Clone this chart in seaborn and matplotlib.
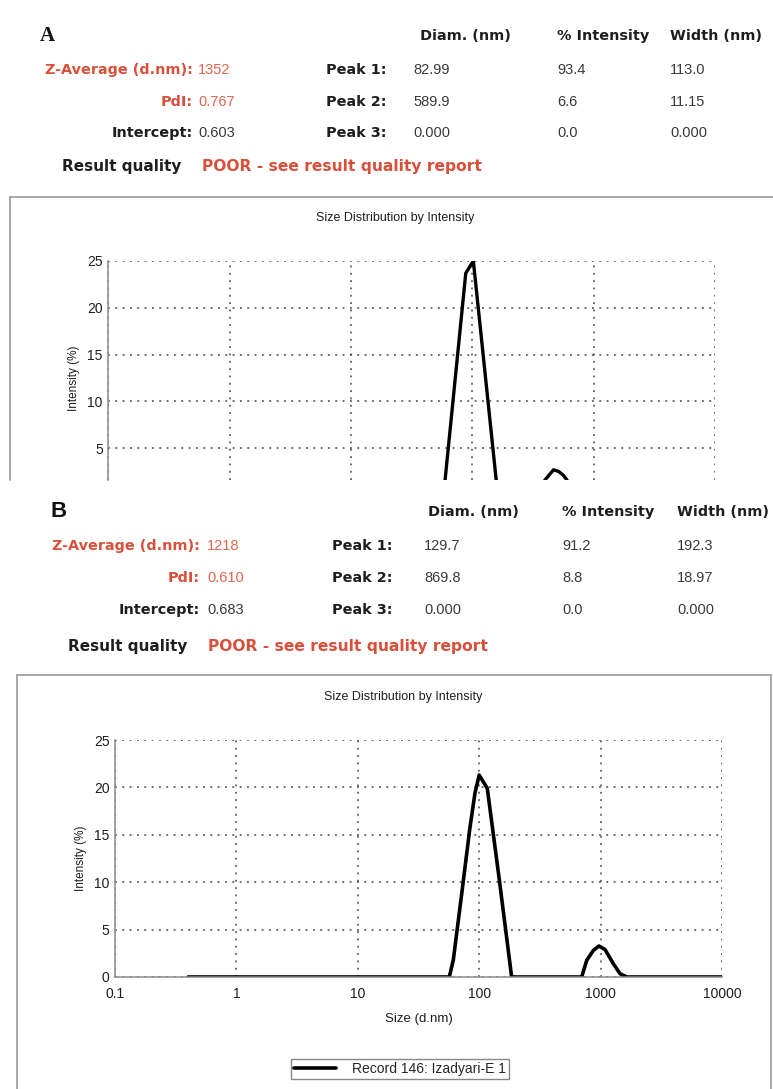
import numpy as np
import pandas as pd
import matplotlib
matplotlib.use("Agg")
import matplotlib.pyplot as plt
import seaborn as sns
from matplotlib.lines import Line2D
from matplotlib.ticker import FixedLocator, NullFormatter

sns.set_style("white")
plt.rcParams['font.family'] = ['Liberation Sans', 'DejaVu Sans']

# ---------------- data ----------------
size_a = [0.4, 58, 88.3, 102, 162, 340, 398, 467, 514, 561, 601, 690, 10000]
int_a = [0, 0, 23.7, 25.0, 0, 0, 1.6, 2.67, 2.49, 2.1, 1.6, 0, 0]

size_b = [0.4, 56.7, 61.2, 71.8, 84.0, 92.3, 100, 116.6, 148, 185,
          698, 769, 871, 970, 1087, 1273, 1445, 1640, 10000]
int_b = [0, 0, 1.8, 8.8, 15.8, 19.4, 21.3, 19.9, 9.8, 0,
         0, 1.76, 2.8, 3.27, 2.9, 1.4, 0.35, 0, 0]

x_ticks = [0.1, 1, 10, 100, 1000, 10000]
x_ticklabels = ["0.1", "1", "10", "100", "1000", "10000"]
y_ticks = [0, 5, 10, 15, 20, 25]

header_cols = ["Diam. (nm)", "% Intensity", "Width (nm)"]
left_labels = ["Z-Average (d.nm):", "PdI:", "Intercept:"]
peak_labels = ["Peak 1:", "Peak 2:", "Peak 3:"]

left_vals_a = ["1352", "0.767", "0.603"]
diam_a = ["82.99", "589.9", "0.000"]
inten_a = ["93.4", "6.6", "0.0"]
width_a = ["113.0", "11.15", "0.000"]

left_vals_b = ["1218", "0.610", "0.683"]
diam_b = ["129.7", "869.8", "0.000"]
inten_b = ["91.2", "8.8", "0.0"]
width_b = ["192.3", "18.97", "0.000"]

quality_text = "POOR - see result quality report"
chart_title = "Size Distribution by Intensity"
legend_label = "Record 146: Izadyari-E 1"

# ---------------- figure ----------------
W, H = 773, 1089
fig = plt.figure(figsize=(W / 100, H / 100), dpi=100)
fig.patch.set_facecolor("white")


def fx(x):
    return x / W


def fy(y):
    return 1 - y / H


RED = "#d8503a"
RED2 = "#e0654c"
DARK = "#1e1e1e"
VAL = "#3a3a3a"
HS = 10.5      # value font size
BS = 10.4      # bold label font size
BOLD = dict(family=["DejaVu Sans"], fontweight="bold")


def header(letter, letter_kw, lx, ly, y_head, rows_y, y_res, xs, lv, dv, iv, wv):
    fig.text(fx(lx), fy(ly), letter, ha="left", va="center", **letter_kw)
    for c, name in zip(["diam_h", "int_h", "wid_h"], header_cols):
        fig.text(fx(xs[c]), fy(y_head), name, ha="left", va="center",
                 fontsize=BS, color=DARK, **BOLD)
    for i, yy in enumerate(rows_y):
        col = RED if i < 2 else DARK
        vcol = RED2 if i < 2 else VAL
        fig.text(fx(xs["lab_r"]), fy(yy), left_labels[i], ha="right", va="center",
                 fontsize=BS, color=col, **BOLD)
        fig.text(fx(xs["val_l"]), fy(yy), lv[i], ha="left", va="center",
                 fontsize=HS, color=vcol)
        fig.text(fx(xs["peak_r"]), fy(yy), peak_labels[i], ha="right", va="center",
                 fontsize=BS, color=DARK, **BOLD)
        fig.text(fx(xs["diam"]), fy(yy), dv[i], ha="left", va="center",
                 fontsize=HS, color=VAL)
        fig.text(fx(xs["int"]), fy(yy), iv[i], ha="left", va="center",
                 fontsize=HS, color=VAL)
        fig.text(fx(xs["wid"]), fy(yy), wv[i], ha="left", va="center",
                 fontsize=HS, color=VAL)
    fig.text(fx(xs["res_l"]), fy(y_res), "Result quality", ha="left", va="center",
             fontsize=11, color=DARK, **BOLD)
    fig.text(fx(xs["poor_l"]), fy(y_res), quality_text, ha="left", va="center",
             fontsize=11.2, color=RED, **BOLD)


xs_a = dict(diam_h=420, int_h=557, wid_h=670, lab_r=193, val_l=198, peak_r=386,
            diam=413, int=557, wid=670, res_l=62, poor_l=202)
xs_b = dict(diam_h=428, int_h=562, wid_h=677, lab_r=200, val_l=207, peak_r=392,
            diam=424, int=562, wid=677, res_l=68, poor_l=208)

header("A", dict(fontsize=15, fontweight="bold", family="Liberation Serif", color="#111"),
       40, 36, 36, [70, 102, 133], 167, xs_a, left_vals_a, diam_a, inten_a, width_a)
header("B", dict(fontsize=16, fontweight="bold", color="#111"),
       50, 512, 512, [546, 578, 610], 646, xs_b, left_vals_b, diam_b, inten_b, width_b)

# frames
FR = "#9a9a9a"
fig.add_artist(Line2D([fx(10), fx(780)], [fy(197), fy(197)], color=FR, lw=1.2))
fig.add_artist(Line2D([fx(10), fx(10)], [fy(197), fy(480)], color=FR, lw=1.2))
fig.add_artist(Line2D([fx(17), fx(771)], [fy(675), fy(675)], color=FR, lw=1.2))
fig.add_artist(Line2D([fx(17), fx(17)], [fy(675), fy(1095)], color=FR, lw=1.2))
fig.add_artist(Line2D([fx(771), fx(771)], [fy(675), fy(1095)], color=FR, lw=1.2))

fig.text(fx(395), fy(218), chart_title, ha="center", va="center", fontsize=9, color=DARK)
fig.text(fx(403), fy(697), chart_title, ha="center", va="center", fontsize=9, color=DARK)


def style_axis(ax, ylow, show_bottom):
    ax.set_xscale("log")
    ax.set_xlim(0.1, 10000)
    ax.set_ylim(ylow, 25)
    ax.set_axisbelow(True)
    ax.grid(True, which="major", color="#444444", linestyle=(0, (1.2, 3.6)), linewidth=1.1)
    ax.xaxis.set_major_locator(FixedLocator(x_ticks))
    ax.yaxis.set_major_locator(FixedLocator([t for t in y_ticks if t >= ylow - 1e-9]))
    ax.yaxis.set_minor_locator(FixedLocator([2.5, 7.5, 12.5, 17.5, 22.5]))
    ax.xaxis.set_minor_locator(FixedLocator([0.2, 0.3]))
    ax.xaxis.set_minor_formatter(NullFormatter())
    for s in ["top", "right"]:
        ax.spines[s].set_visible(False)
    ax.spines["left"].set_color("#8a8a8a")
    ax.spines["left"].set_linewidth(1.1)
    ax.set_ylabel("Intensity (%)", fontsize=8.5, color=DARK, labelpad=5)
    ax.tick_params(axis="y", which="major", labelsize=10, length=4, direction="out",
                   color="#8a8a8a", labelcolor=DARK, pad=0)
    ax.tick_params(axis="y", which="minor", length=3, direction="out", color="#8a8a8a")
    if show_bottom:
        ax.spines["bottom"].set_color("#8a8a8a")
        ax.spines["bottom"].set_linewidth(1.1)
        ax.set_xticklabels(x_ticklabels)
        ax.tick_params(axis="x", which="major", labelsize=10, length=3, direction="out",
                       color="#8a8a8a", labelcolor=DARK, pad=4)
        ax.tick_params(axis="x", which="minor", length=3, direction="inout", color="#8a8a8a")
        ax.set_xlabel("Size (d.nm)", fontsize=9.5, color=DARK, labelpad=9)
    else:
        ax.spines["bottom"].set_visible(False)
        ax.tick_params(axis="x", which="both", length=0, labelbottom=False)
        ax.set_xlabel("")


# Panel A chart (cropped at its bottom)
ya_top, ya_bot, pa = 261, 480, 9.35
axA = fig.add_axes([fx(108.3), fy(ya_bot), fx(715) - fx(108.3), fy(ya_top) - fy(ya_bot)])
dfa = pd.DataFrame({"size": size_a, "intensity": int_a})
sns.lineplot(data=dfa, x="size", y="intensity", ax=axA, color="black", lw=2.4,
             estimator=None, sort=False, legend=False)
style_axis(axA, 25 - (ya_bot - ya_top) / pa, False)
axA.yaxis.label.set_y((ya_bot - 378) / (ya_bot - ya_top))
for ln in axA.get_lines():
    ln.set_solid_joinstyle("round")

# Panel B chart
axB = fig.add_axes([fx(115), fy(977), fx(722) - fx(115), fy(740) - fy(977)])
dfb = pd.DataFrame({"size": size_b, "intensity": int_b})
sns.lineplot(data=dfb, x="size", y="intensity", ax=axB, color="black", lw=2.6,
             estimator=None, sort=False, label=legend_label)
style_axis(axB, 0, True)
for ln in axB.get_lines():
    ln.set_solid_joinstyle("round")
axB.legend(loc="center", bbox_to_anchor=(fx(400), fy(1069)), bbox_transform=fig.transFigure,
           frameon=True, fancybox=False, edgecolor="#888888", fontsize=10,
           handlelength=3.0, borderpad=0.2, handletextpad=1.2, framealpha=1)

fig.savefig("out.png", dpi=100, facecolor="white")
